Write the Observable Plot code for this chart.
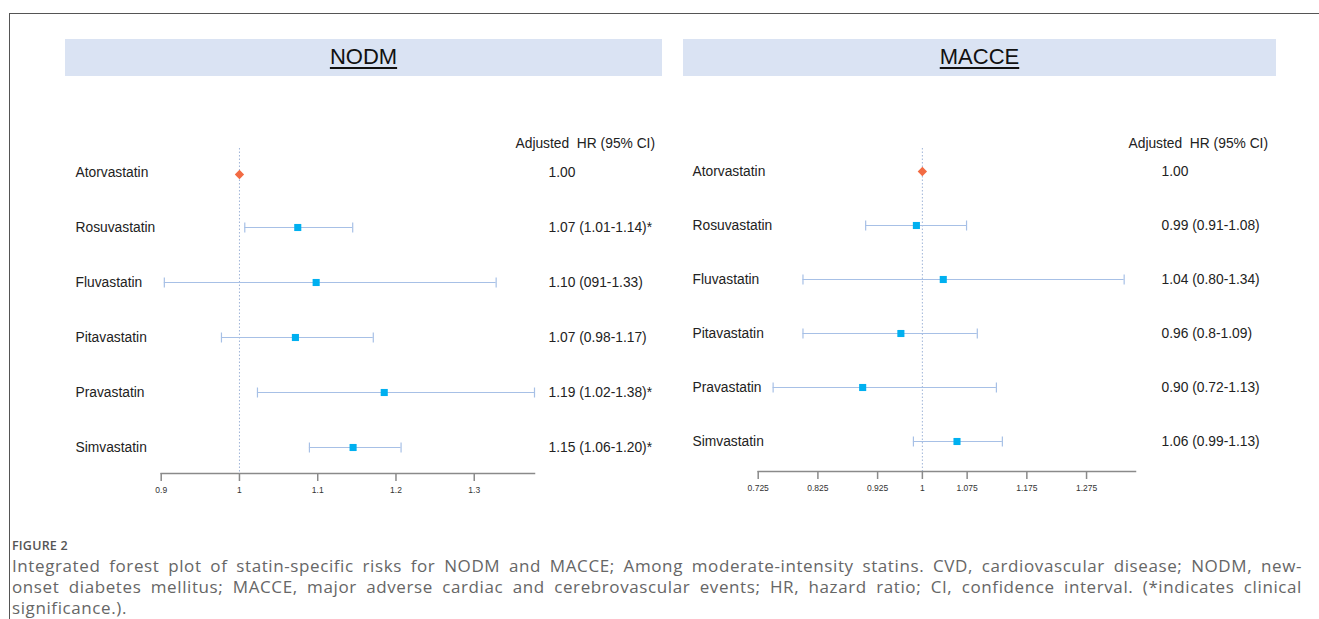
<!DOCTYPE html>
<html>
<head>
<meta charset="utf-8">
<script src="https://cdn.jsdelivr.net/npm/d3@7"></script>
<script src="https://cdn.jsdelivr.net/npm/@observablehq/plot@0.6"></script>
<style>
  html, body { margin: 0; padding: 0; background: #fff; }
  #page { position: relative; width: 1319px; height: 619px; overflow: hidden; font-family: "Liberation Sans", Arial, sans-serif; }
  .frameTop { position: absolute; left: 9px; top: 12.5px; width: 1310px; height: 0; border-top: 1.5px solid #555; }
  .frameLeft { position: absolute; left: 8.5px; top: 12.5px; width: 0; height: 610px; border-left: 1.5px solid #555; }
  .band { position: absolute; top: 38.5px; height: 37px; background: #dae3f3; display: flex; align-items: center; justify-content: center; }
  .band span { font-size: 22px; color: #111; text-decoration: underline; text-underline-offset: 3px; text-decoration-thickness: 2px; }
  .panel { position: absolute; top: 0; }
  #caption { position: absolute; left: 12px; top: 537px; width: 1290px; font-family: "Open Sans", "Noto Sans", sans-serif; color: #666; }
  #caption .fig { font-size: 12.5px; line-height: 17px; color: #555; font-weight: 600; letter-spacing: 0.2px; margin-bottom: 1px; }
  #caption .ln { font-size: 17px; line-height: 21.2px; letter-spacing: 0.6px; text-align: justify; text-align-last: justify; }
  #caption .ln.last { text-align-last: left; }
</style>
</head>
<body>
<div id="page">
  <div class="frameTop"></div>
  <div class="frameLeft"></div>
  <div class="band" style="left:65px;width:597px;"><span id="t1"></span></div>
  <div class="band" style="left:683px;width:593px;"><span id="t2"></span></div>
  <div class="panel" id="left" style="left:0px;"></div>
  <div class="panel" id="right" style="left:676px;"></div>
  <div id="caption"></div>
</div>
<script>
// ---- data ----
const panelTitles = ["NODM", "MACCE"];
const drugs = ["Atorvastatin", "Rosuvastatin", "Fluvastatin", "Pitavastatin", "Pravastatin", "Simvastatin"];
const columnHeader = "Adjusted\u00a0 HR (95% CI)";

const nodmHR = [1.00, 1.0745, 1.098, 1.0715, 1.185, 1.1452];
const nodmLo = [null, 1.0068, 0.904, 0.977, 1.023, 1.0894];
const nodmHi = [null, 1.1447, 1.328, 1.171, 1.377, 1.2065];
const nodmText = ["1.00", "1.07 (1.01-1.14)*", "1.10 (091-1.33)", "1.07 (0.98-1.17)", "1.19 (1.02-1.38)*", "1.15 (1.06-1.20)*"];
const nodmTicks = [0.9, 1, 1.1, 1.2, 1.3];
const nodmTickLabels = ["0.9", "1", "1.1", "1.2", "1.3"];
const nodmDomain = [0.9, 1.377];

const macceHR = [1.00, 0.99, 1.035, 0.964, 0.90, 1.058];
const macceLo = [null, 0.905, 0.80, 0.80, 0.75, 0.985];
const macceHi = [null, 1.074, 1.338, 1.092, 1.124, 1.134];
const macceText = ["1.00", "0.99 (0.91-1.08)", "1.04 (0.80-1.34)", "0.96 (0.8-1.09)", "0.90 (0.72-1.13)", "1.06 (0.99-1.13)"];
const macceTicks = [0.725, 0.825, 0.925, 1, 1.075, 1.175, 1.275];
const macceTickLabels = ["0.725", "0.825", "0.925", "1", "1.075", "1.175", "1.275"];
const macceDomain = [0.725, 1.357];

const captionHead = "FIGURE 2";
const captionLines = [
  "Integrated forest plot of statin-specific risks for NODM and MACCE; Among moderate-intensity statins. CVD, cardiovascular disease; NODM, new-",
  "onset diabetes mellitus; MACCE, major adverse cardiac and cerebrovascular events; HR, hazard ratio; CI, confidence interval. (*indicates clinical",
  "significance.)."
];

// ---- styles ----
const ciColor = "#a7c0e6";
const pointColor = "#00b0f0";
const refColor = "#f26b43";
const vbar = { draw(ctx, size) { const h = Math.sqrt(size / Math.PI); ctx.moveTo(0, -h); ctx.lineTo(0, h); } };

function forest(opt) {
  const rows = drugs.map((d, i) => ({ drug: d, hr: opt.hr[i], lo: opt.lo[i], hi: opt.hi[i], txt: opt.text[i], ref: i === 0 }));
  const ci = rows.filter(r => r.lo != null);
  const fmt = new Map(opt.ticks.map((t, i) => [t, opt.tickLabels[i]]));
  return Plot.plot({
    width: opt.width,
    height: 500,
    marginLeft: opt.ml,
    marginRight: opt.mr,
    marginTop: 148,
    marginBottom: opt.mb,
    style: { fontFamily: "'Liberation Sans', Arial, sans-serif", fontSize: "13.8px", color: "#222", background: "transparent", overflow: "visible" },
    x: { domain: opt.domain },
    y: { type: "point", domain: drugs, range: opt.yRange, padding: 0, axis: null },
    marks: [
      Plot.ruleX([1], { stroke: "#9fb4d8", strokeDasharray: "1.5,2", strokeWidth: 1 }),
      Plot.frame({ anchor: "bottom", stroke: "#8a8a8a", strokeWidth: 1.5 }),
      Plot.axisX({ ticks: opt.ticks, tickFormat: t => fmt.get(t), tickSize: 8, tickPadding: 5, fontSize: 8.5, stroke: "#8a8a8a", strokeWidth: 1.5, fill: "#333", label: null }),
      Plot.ruleY(ci, { y: "drug", x1: "lo", x2: "hi", stroke: ciColor, strokeWidth: 1.2 }),
      Plot.dot(ci, { x: "lo", y: "drug", symbol: vbar, r: 5, stroke: ciColor, fill: "none", strokeWidth: 1.2 }),
      Plot.dot(ci, { x: "hi", y: "drug", symbol: vbar, r: 5, stroke: ciColor, fill: "none", strokeWidth: 1.2 }),
      Plot.dot(ci, { x: "hr", y: "drug", symbol: "square", r: 4, fill: pointColor, stroke: null }),
      Plot.dot(rows.filter(r => r.ref), { x: "hr", y: "drug", symbol: "diamond2", r: 4.2, fill: refColor, stroke: null, dy: opt.refDy }),
      Plot.text(rows, { y: "drug", text: "drug", frameAnchor: "left", dx: opt.labelDx, textAnchor: "start", fill: "#222" }),
      Plot.text(rows, { y: "drug", text: "txt", frameAnchor: "right", dx: opt.valueDx, textAnchor: "start", fill: "#222" }),
      Plot.text([columnHeader], { frameAnchor: "top-right", dx: opt.headerDx, dy: -10, textAnchor: "start", fill: "#222" })
    ]
  });
}

document.getElementById("t1").textContent = panelTitles[0];
document.getElementById("t2").textContent = panelTitles[1];

document.getElementById("left").appendChild(forest({
  hr: nodmHR, lo: nodmLo, hi: nodmHi, text: nodmText, ticks: nodmTicks, tickLabels: nodmTickLabels, domain: nodmDomain,
  width: 676, ml: 160.7, mr: 142, mb: 27, yRange: [171, 447], labelDx: -85.7, valueDx: 14, headerDx: -19, refDy: 2
}));
document.getElementById("right").appendChild(forest({
  hr: macceHR, lo: macceLo, hi: macceHi, text: macceText, ticks: macceTicks, tickLabels: macceTickLabels, domain: macceDomain,
  width: 643, ml: 81.7, mr: 184, mb: 29, yRange: [170, 441], labelDx: -65.7, valueDx: 26, headerDx: -7, refDy: 0
}));

const cap = document.getElementById("caption");
const h = document.createElement("div"); h.className = "fig"; h.textContent = captionHead; cap.appendChild(h);
captionLines.forEach((t, i) => {
  const d = document.createElement("div");
  d.className = "ln" + (i === captionLines.length - 1 ? " last" : "");
  d.textContent = t;
  cap.appendChild(d);
});
</script>
</body>
</html>
